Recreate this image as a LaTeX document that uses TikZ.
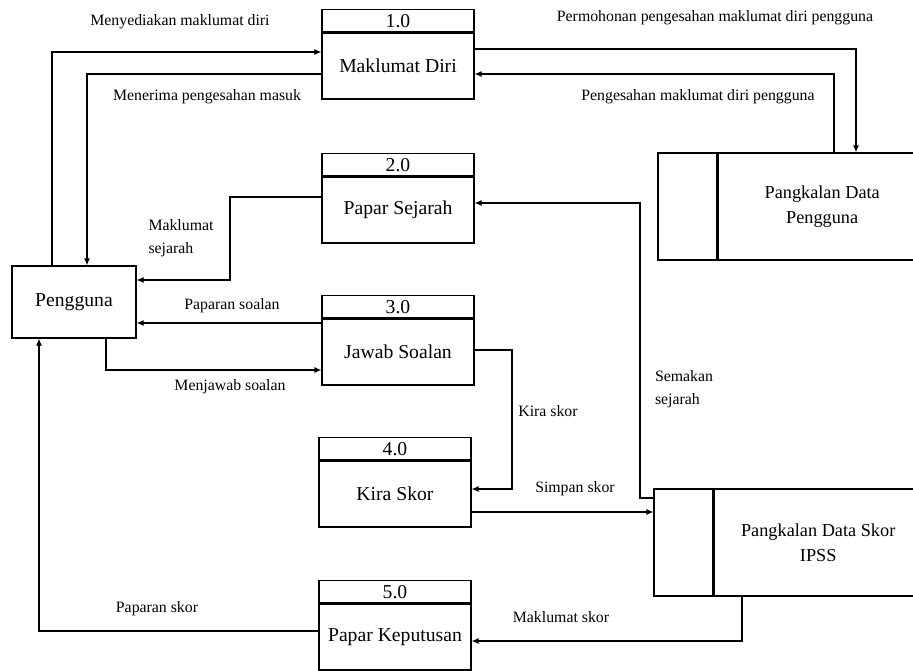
\documentclass[tikz,border=0pt]{standalone}
\usepackage{fontspec}
\setmainfont{Liberation Serif}
\usetikzlibrary{positioning,arrows.meta}

\tikzset{
  >={Latex[length=4pt,width=3.5pt]},
  boxfont/.style={font=\fontsize{11.2}{13}\selectfont},
  proc/.style={draw, boxfont, minimum width=3.04cm, minimum height=1.32cm, inner sep=0pt},
  procid/.style={draw, boxfont, minimum width=3.04cm, minimum height=0.44cm, inner sep=0pt},
  entity/.style={draw, boxfont, minimum width=2.48cm, minimum height=1.44cm, inner sep=0pt},
  storeid/.style={draw, minimum width=1.18cm, minimum height=2.14cm, inner sep=0pt},
  store/.style={draw, align=center, font=\fontsize{10.4}{14}\selectfont, minimum width=4.16cm, minimum height=2.14cm, inner sep=0pt},
  flowlabel/.style={font=\fontsize{9}{13}\selectfont, inner sep=1pt}
}

\begin{document}
\begin{tikzpicture}[x=0.02cm, y=-0.02cm, line width=0.7pt]
    \useasboundingbox (0,0) rectangle (913,671);
    \clip (0,0) rectangle (913,671);

    \node[entity] (pg) at (74,302) {Pengguna};

    \node[proc] (p1) at (398,66) {Maklumat Diri};
    \node[procid, above=0pt of p1] (p1id) {1.0};
    \node[proc] (p2) at (398,210) {Papar Sejarah};
    \node[procid, above=0pt of p2] (p2id) {2.0};
    \node[proc] (p3) at (398,352) {Jawab Soalan};
    \node[procid, above=0pt of p3] (p3id) {3.0};
    \node[proc] (p4) at (395,494) {Kira Skor};
    \node[procid, above=0pt of p4] (p4id) {4.0};
    \node[proc] (p5) at (395,637) {Papar Keputusan};
    \node[procid, above=0pt of p5] (p5id) {5.0};

    \node[storeid] (db1id) at (687.5,206.5) {};
    \node[store, right=0pt of db1id] (db1) {Pangkalan Data\\Pengguna};
    \node[storeid] (db2id) at (683.5,542.5) {};
    \node[store, right=0pt of db2id] (db2) {Pangkalan Data Skor\\IPSS};

    % bend points
    \coordinate (k1) at (52,52);
    \coordinate (k2) at (87,74);
    \coordinate (k3) at (856,49);
    \coordinate (k4) at (834,74);
    \coordinate (k5a) at (230,197);
    \coordinate (k5b) at (230,280);
    \coordinate (k6) at (200,323);
    \coordinate (k7) at (106,370);
    \coordinate (k8a) at (512,350);
    \coordinate (k8b) at (512,489);
    \coordinate (k9) at (560,512);
    \coordinate (k10a) at (640,498);
    \coordinate (k10b) at (640,203);
    \coordinate (k11) at (742,641);
    \coordinate (k12) at (39,631);

    \draw[->] (pg.north -| k1) -- (k1) -- (p1.west |- k1);
    \draw[->] (p1.west |- k2) -- (k2) -- (pg.north -| k2);
    \draw[->] (p1.east |- k3) -- (k3) -- (db1.north -| k3);
    \draw[->] (db1.north -| k4) -- (k4) -- (p1.east |- k4);
    \draw[->] (p2.west |- k5a) -- (k5a) -- (k5b) -- (pg.east |- k5b);
    \draw[->] (p3.west |- k6) -- (pg.east |- k6);
    \draw[->] (pg.south -| k7) -- (k7) -- (p3.west |- k7);
    \draw[->] (p3.east |- k8a) -- (k8a) -- (k8b) -- (p4.east |- k8b);
    \draw[->] (p4.east |- k9) -- (db2id.west |- k9);
    \draw[->] (db2id.west |- k10a) -- (k10a) -- (k10b) -- (p2.east |- k10b);
    \draw[->] (db2.south -| k11) -- (k11) -- (p5.east |- k11);
    \draw[->] (p5.west |- k12) -- (k12) -- (pg.south -| k12);

    \node[flowlabel] (l1) at (180,22) {Menyediakan maklumat diri};
    \node[flowlabel] (l2) at (207,97) {Menerima pengesahan masuk};
    \node[flowlabel] (l3) at (715,18) {Permohonan pengesahan maklumat diri pengguna};
    \node[flowlabel] (l4) at (698,97) {Pengesahan maklumat diri pengguna};
    \node[flowlabel, align=left] (l5) at (181,238) {Maklumat\\sejarah};
    \node[flowlabel] (l6) at (232,306) {Paparan soalan};
    \node[flowlabel] (l7) at (230,387) {Menjawab soalan};
    \node[flowlabel] (l8) at (548,411) {Kira skor};
    \node[flowlabel, align=left] (l9) at (684,389) {Semakan\\sejarah};
    \node[flowlabel] (l10) at (575,489) {Simpan skor};
    \node[flowlabel] (l11) at (561,617) {Maklumat skor};
    \node[flowlabel] (l12) at (157,609) {Paparan skor};

\end{tikzpicture}
\end{document}
